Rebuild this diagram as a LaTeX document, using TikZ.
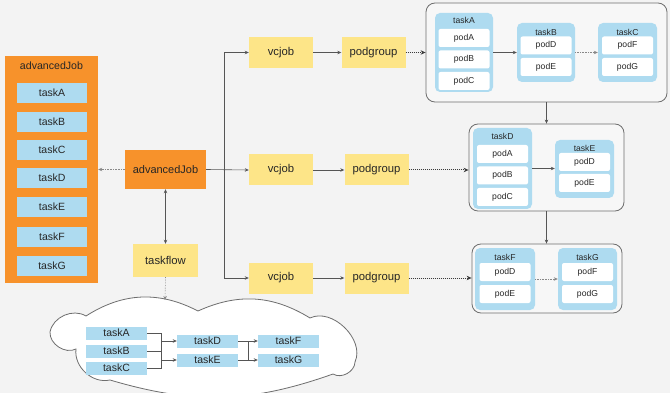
\documentclass[tikz,border=0pt]{standalone}
\usepackage{fontspec}
\setmainfont{Liberation Sans}
\usetikzlibrary{arrows.meta}
\definecolor{bgC}{HTML}{F3F3F3}
\definecolor{orC}{HTML}{F7922B}
\definecolor{blC}{HTML}{AEDBF0}
\definecolor{yeC}{HTML}{FDE588}
\definecolor{coC}{HTML}{F7F7F7}
\definecolor{txC}{HTML}{262626}
\definecolor{lnC}{HTML}{555555}
\tikzset{
  every node/.style={text=txC, inner sep=0pt},
  orbox/.style={fill=orC, font=\fontsize{11}{13}\selectfont},
  ltask/.style={fill=blC, minimum width=70pt, minimum height=20pt, font=\fontsize{10.5}{12}\selectfont},
  ybox/.style={fill=yeC, minimum width=64pt, minimum height=31pt, font=\fontsize{11.3}{13}\selectfont},
  cont/.style={draw=lnC!85, line width=0.8pt, fill=coC, rounded corners=9pt},
  grp/.style={fill=blC, rounded corners=5pt},
  gtitle/.style={font=\fontsize{8.6}{10}\selectfont},
  pod/.style={fill=white, rounded corners=2pt, minimum width=51pt, minimum height=18pt, font=\fontsize{8.6}{10}\selectfont},
  ctask/.style={fill=blC, minimum width=61pt, minimum height=13pt, font=\fontsize{10.5}{12}\selectfont},
  conn/.style={draw=lnC, line width=0.6pt},
  arr/.style={conn, -{Stealth[length=4pt,width=3.5pt]}},
  darr/.style={draw=txC!90, line width=1pt, densely dotted, -{Stealth[length=5pt,width=4.5pt]}},
  larr/.style={draw=lnC!70, line width=0.6pt, densely dotted, -{Stealth[length=4pt,width=3.5pt]}},
}
\begin{document}
\begin{tikzpicture}[x=1pt,y=-1pt]
\fill[bgC] (0,0) rectangle (670,393);
\useasboundingbox (0,0) rectangle (670,393);

% left panel
\node[orbox, minimum width=93pt, minimum height=227pt] (panel) at (51.5,169.5) {};
\node[font=\fontsize{10.6}{12}\selectfont] (ptitle) at (51.5,66) {advancedJob};
\node[ltask] (lA) at (52,93) {taskA};
\node[ltask] (lB) at (52,122) {taskB};
\node[ltask] (lC) at (52,150) {taskC};
\node[ltask] (lD) at (52,178) {taskD};
\node[ltask] (lE) at (52,207) {taskE};
\node[ltask] (lF) at (52,237) {taskF};
\node[ltask] (lG) at (52,266) {taskG};

% central
\node[orbox, minimum width=81pt, minimum height=39pt] (aj) at (165.5,169.5) {advancedJob};
\node[ybox, minimum width=65pt, minimum height=33pt] (tf) at (165.5,260.5) {taskflow};

\node[ybox] (vc1) at (281,52.5) {vcjob};
\node[ybox] (vc2) at (281,170) {vcjob};
\node[ybox] (vc3) at (281,278) {vcjob};
\node[ybox] (pg1) at (373.5,52.5) {podgroup};
\node[ybox] (pg2) at (376.5,170) {podgroup};
\node[ybox] (pg3) at (376.5,278) {podgroup};

% containers
\node[cont, minimum width=241pt, minimum height=99pt] (c1) at (546.5,52.5) {};
\node[cont, minimum width=155pt, minimum height=87pt] (c2) at (546.5,167.5) {};
\node[cont, minimum width=150pt, minimum height=69pt] (c3) at (547,278.5) {};

% top container groups
\node[grp, minimum width=58pt, minimum height=79pt] (gA) at (464,52.5) {};
\node[gtitle] (tA) at (464,20.5) {taskA};
\node[pod] (pA1) at (464,38) {podA};
\node[pod] (pA2) at (464,59.5) {podB};
\node[pod] (pA3) at (464,81) {podC};
\node[grp, minimum width=58pt, minimum height=59pt] (gB) at (546,52.5) {};
\node[gtitle] (tB) at (546,32) {taskB};
\node[pod] (pB1) at (546,45.5) {podD};
\node[pod] (pB2) at (546,67) {podE};
\node[grp, minimum width=59pt, minimum height=59pt] (gC) at (627.5,52.5) {};
\node[gtitle] (tC) at (627.5,32) {taskC};
\node[pod] (pC1) at (627.5,45.5) {podF};
\node[pod] (pC2) at (627.5,67) {podG};

% middle container groups
\node[grp, minimum width=59pt, minimum height=81pt] (gD) at (502.5,168.5) {};
\node[gtitle] (tD) at (502.5,136) {taskD};
\node[pod] (pD1) at (502.5,154) {podA};
\node[pod] (pD2) at (502.5,175.5) {podB};
\node[pod] (pD3) at (502.5,197) {podC};
\node[grp, minimum width=59pt, minimum height=58pt] (gE) at (584.5,169) {};
\node[gtitle] (tE) at (584.5,148) {taskE};
\node[pod] (pE1) at (584.5,162) {podD};
\node[pod] (pE2) at (584.5,183) {podE};

% bottom container groups
\node[grp, minimum width=60pt, minimum height=62pt] (gF) at (505,279) {};
\node[gtitle] (tF) at (505,257) {taskF};
\node[pod] (pF1) at (505,272) {podD};
\node[pod] (pF2) at (505,294) {podE};
\node[grp, minimum width=59pt, minimum height=62pt] (gG) at (587.5,279) {};
\node[gtitle] (tG) at (587.5,257) {taskG};
\node[pod] (pG1) at (587.5,272) {podF};
\node[pod] (pG2) at (587.5,294) {podG};

% cloud
\coordinate (cltop) at (165,300);
\draw[draw=lnC!85, line width=0.8pt, fill=white]
  (50,332) to[bend left=55] (86,316)
  to[bend left=30] (198,311)
  to[bend left=28] (310,318)
  to[bend left=70] (355,362)
  to[bend left=60] (333,374)
  to[bend left=18] (110,380)
  to[bend left=55] (76,349)
  to[bend left=60] cycle;
\node[ctask] (cA) at (116.5,333) {taskA};
\node[ctask] (cB) at (116.5,351) {taskB};
\node[ctask] (cC) at (116.5,368) {taskC};
\node[ctask] (cD) at (207.5,341) {taskD};
\node[ctask] (cE) at (207.5,360) {taskE};
\node[ctask] (cF) at (288.5,341) {taskF};
\node[ctask] (cG) at (288.5,360) {taskG};

% connectors
\coordinate (j) at (224,170);
\draw[larr] (aj.west) -- (panel.east |- aj.west);
\draw[conn, {Stealth[length=4pt,width=3.5pt]}-{Stealth[length=4pt,width=3.5pt]}] (aj.south) -- (tf.north);
\draw[larr] (tf.south) -- (cltop);
\draw[arr] (aj.east) -- (vc2.west);
\draw[conn] (j |- vc1) -- (j |- vc3);
\draw[arr] (j |- vc1) -- (vc1.west);
\draw[arr] (j |- vc3) -- (vc3.west);
\draw[arr] (vc1.east) -- (pg1.west);
\draw[arr] (vc2.east) -- (pg2.west);
\draw[arr] (vc3.east) -- (pg3.west);
\draw[darr] (pg1.east) -- (c1.west);
\draw[darr] (pg2.east) -- (pg2.east -| c2.west);
\draw[darr] (pg3.east) -- (pg3.east -| c3.west);
\draw[arr] (c1.south) -- (c2.north);
\draw[arr] (c2.south) -- (c2.south |- c3.north);
\draw[arr] (gA.east) -- (gB.west);
\draw[larr] (gB.east) -- (gC.west);
\draw[arr] (gD.east) -- (gD.east -| gE.west);
\draw[larr] (gF.east) -- (gG.west);

\coordinate (k1) at (161,350);
\coordinate (k2) at (248,350);
\draw[conn] (cA.east) -- (cA -| k1) -- (cC -| k1) -- (cC.east);
\draw[conn] (cB.east) -- (cB -| k1);
\draw[arr] (cD -| k1) -- (cD.west);
\draw[arr] (cE -| k1) -- (cE.west);
\draw[conn] (cD.east) -- (cD -| k2) -- (cE -| k2);
\draw[conn] (cE.east) -- (cE -| k2);
\draw[arr] (cF -| k2) -- (cF.west);
\draw[arr] (cG -| k2) -- (cG.west);
\end{tikzpicture}
\end{document}
